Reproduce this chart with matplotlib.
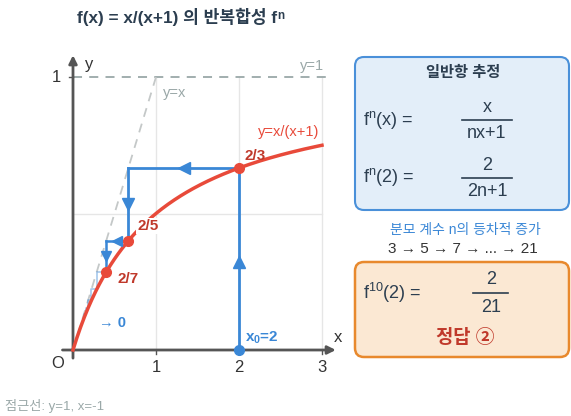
import matplotlib.pyplot as plt
from matplotlib.patches import FancyBboxPatch
import numpy as np

plt.rcParams["font.family"] = ["Liberation Sans", "Noto Sans CJK KR", "DejaVu Sans"]
plt.rcParams["mathtext.fontset"] = "custom"
plt.rcParams["mathtext.rm"] = "Liberation Sans"

# data
x0 = 2
orbit_n = np.arange(0, 9)                      # f^n(2) = 2/(2n+1)
orbit = [2 / (2 * n + 1) if n > 0 else 2 for n in orbit_n]
labelled = [(2, 2 / 3, "2/3"), (2 / 3, 2 / 5, "2/5"), (2 / 5, 2 / 7, "2/7")]
x_ticks = [1, 2, 3]
curve_x = np.linspace(0, 3, 200)

BLUE = "#3a87d6"
RED = "#e84a3a"
DARKRED = "#c0392b"
GRAY = "#9aa8a8"
AXIS = "#555555"
DARK = "#2c3e50"

fig = plt.figure(figsize=(5.71, 4.16), dpi=100)

# main axes: 83 px per x unit, 273 px per y unit, origin at (73, 350) px
ax = fig.add_axes([0, 0, 340 / 571, 376 / 416])
ax.set_xlim((0 - 73) / 83, (340 - 73) / 83)
ax.set_ylim((350 - 416) / 273, (350 - 40) / 273)
ax.axis("off")

# grid
for xt in x_ticks:
    ax.plot([xt, xt], [0, 1], color="#e6e6e6", lw=1, zorder=0)
ax.plot([0, 3], [0.5, 0.5], color="#e6e6e6", lw=1, zorder=0)

# axes arrows
ax.annotate("", xy=(3.2, 0), xytext=(-0.16, 0),
            arrowprops=dict(arrowstyle="-|>", color=AXIS, lw=2, mutation_scale=12))
ax.annotate("", xy=(0, 1.09), xytext=(0, -0.04),
            arrowprops=dict(arrowstyle="-|>", color=AXIS, lw=2, mutation_scale=12))
for xt in x_ticks:
    ax.plot([xt, xt], [-0.015, 0.0], color=AXIS, lw=1)
    ax.text(xt, -0.065, str(xt), ha="center", va="center", fontsize=12, color="#333333")
ax.plot([-0.05, 0], [1, 1], color=AXIS, lw=1)
ax.text(-0.2, 1, "1", ha="center", va="center", fontsize=12, color="#333333")
ax.text(-0.19, -0.05, "O", ha="center", va="center", fontsize=12, color="#333333")
ax.text(0.19, 1.045, "y", ha="center", va="center", fontsize=12, color="#333333")
ax.text(3.19, 0.045, "x", ha="center", va="center", fontsize=12, color="#333333")

# reference lines
ax.plot([0, 3.05], [1, 1], color=GRAY, lw=1.3, ls=(0, (5, 4)), zorder=1)
ax.text(2.88, 1.04, "y=1", ha="center", va="center", fontsize=10.5, color=GRAY)
ax.plot([0, 1], [0, 1], color="#c4c8c8", lw=1.3, ls=(0, (5, 4)), zorder=1)
ax.text(1.22, 0.94, "y=x", ha="center", va="center", fontsize=10.5, color=GRAY)

# curve
ax.plot(curve_x, curve_x / (curve_x + 1), color=RED, lw=2.5, zorder=3)
ax.text(2.6, 0.8, "y=x/(x+1)", ha="center", va="center", fontsize=10.5, color=RED)

# cobweb: bold first steps
ax.plot([orbit[0], orbit[0]], [0, orbit[1]], color=BLUE, lw=2, zorder=2)
for k in range(1, 3):
    xa, xb = orbit[k - 1], orbit[k]
    ya = orbit[k]
    yb = orbit[k + 1]
    lw = 2 if k == 1 else 1.8
    ax.plot([xa, xb], [ya, ya], color=BLUE, lw=lw, zorder=2)
    ax.plot([xb, xb], [ya, yb], color=BLUE, lw=lw, zorder=2)
    ms = 8 if k == 1 else 7
    ax.plot((xa + xb) / 2, ya, marker="<", color=BLUE, ms=ms, zorder=4)
    ax.plot(xb, (ya + yb) / 2, marker="v", color=BLUE, ms=ms, zorder=4)
ax.plot(orbit[0], orbit[1] / 2 - 0.01, marker="^", color=BLUE, ms=8, zorder=4)

# cobweb: faint remaining steps
for k in range(3, len(orbit) - 1):
    xa, xb = orbit[k - 1], orbit[k]
    ax.plot([xa, xb, xb], [xb, xb, orbit[k + 1]], color=BLUE, lw=1.2, alpha=0.45, zorder=2)

# points
ax.plot(x0, 0, "o", color=BLUE, ms=7, zorder=5)
for px, py, lab in labelled:
    ax.plot(px, py, "o", color=RED, ms=7, zorder=5)
ax.text(2.19, 0.71, "2/3", ha="center", va="center", fontsize=11, color=DARKRED,
        fontweight="bold")
ax.text(0.9, 0.455, "2/5", ha="center", va="center", fontsize=11, color=DARKRED,
        fontweight="bold", bbox=dict(fc="white", ec="none", pad=0.5), zorder=4)
ax.text(0.66, 0.26, "2/7", ha="center", va="center", fontsize=11, color=DARKRED,
        fontweight="bold")
ax.text(0.48, 0.1, "→ 0", ha="center", va="center", fontsize=10.5, color=BLUE,
        fontweight="bold")
ax.text(2.07, 0.045, r"$\mathregular{x_0}$=2", ha="left", va="center", fontsize=11,
        color=BLUE, fontweight="bold")

# overlay in pixel coordinates for title and side panel
ov = fig.add_axes([0, 0, 1, 1])
ov.set_xlim(0, 571)
ov.set_ylim(416, 0)
ov.axis("off")
ov.patch.set_alpha(0)

title = ov.text(177, 17, "f(x) = x/(x+1) 의 반복합성 f", ha="center",
                va="center", fontsize=12.3, fontweight="bold", color=DARK)
ov.annotate("n", xy=(1, 0.88), xycoords=title, xytext=(0.3, 0), textcoords="offset points",
            ha="left", va="top", fontsize=8.5, fontweight="bold", color=DARK)
ov.text(5, 406, "점근선: y=1, x=-1", ha="left", va="center", fontsize=9.5, color=GRAY)

ov.add_patch(FancyBboxPatch((355, 57), 214, 153, boxstyle="round,pad=0,rounding_size=9",
                            fc="#e3eef9", ec="#4a90d9", lw=1.5))
ov.text(463, 73, "일반항 추정", ha="center", va="center", fontsize=11,
        fontweight="bold", color=DARK)
ov.text(363, 120, r"f$\mathregular{^n}$(x) =", ha="left", va="center", fontsize=13, color=DARK)
ov.text(487, 108, "x", ha="center", va="center", fontsize=13, color=DARK)
ov.plot([462, 512], [119.5, 119.5], color=DARK, lw=1.2)
ov.text(487, 133, "nx+1", ha="center", va="center", fontsize=13, color=DARK)
ov.text(363, 177, r"f$\mathregular{^n}$(2) =", ha="left", va="center", fontsize=13, color=DARK)
ov.text(487, 165, "2", ha="center", va="center", fontsize=13, color=DARK)
ov.plot([462, 512], [177.5, 177.5], color=DARK, lw=1.2)
ov.text(487, 192, "2n+1", ha="center", va="center", fontsize=13, color=DARK)

ov.text(465, 230, "분모 계수 n의 등차적 증가", ha="center", va="center", fontsize=10,
        color=BLUE)
ov.text(463, 249, "3 → 5 → 7 → ... → 21", ha="center", va="center", fontsize=11,
        color="#333333")

ov.add_patch(FancyBboxPatch((355, 262), 214, 95, boxstyle="round,pad=0,rounding_size=9",
                            fc="#fbe8d3", ec="#e8892d", lw=1.8))
ov.text(363, 293, r"f$\mathregular{^{10}}$(2) =", ha="left", va="center", fontsize=13,
        color=DARK)
ov.text(491, 280, "2", ha="center", va="center", fontsize=13, color=DARK)
ov.plot([473, 508], [292.5, 292.5], color=DARK, lw=1.2)
ov.text(491, 307, "21", ha="center", va="center", fontsize=13, color=DARK)
ov.text(465, 338, "정답 ②", ha="center", va="center", fontsize=13.5, fontweight="bold",
        color=DARKRED)

fig.savefig("out.png", dpi=100)
